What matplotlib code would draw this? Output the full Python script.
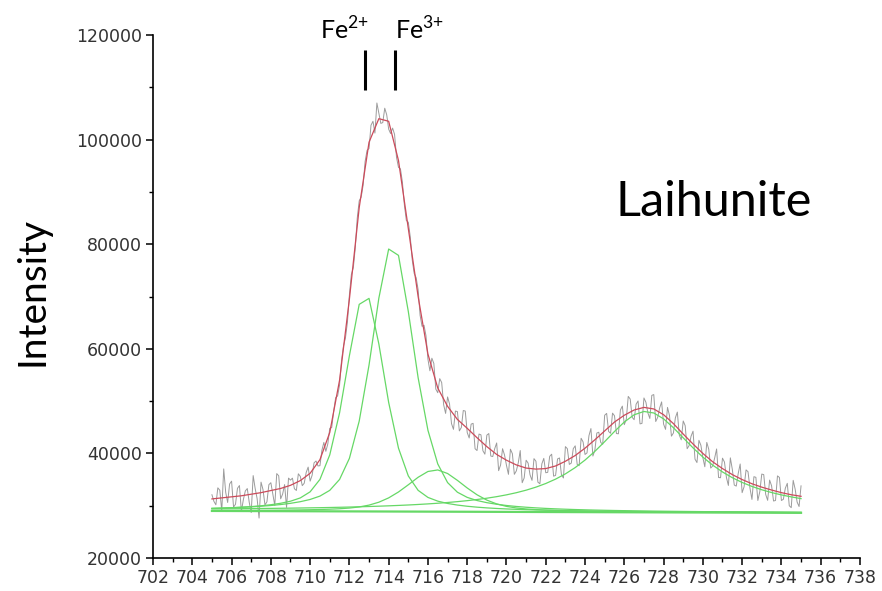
import numpy as np
import matplotlib
matplotlib.use("Agg")
import matplotlib.pyplot as plt
from matplotlib.ticker import MultipleLocator

plt.rcParams['mathtext.fontset'] = 'custom'
plt.rcParams['mathtext.rm'] = 'Lato'

# binding energy grid of the fit curves (eV)
fit_energy = np.linspace(705, 735, 61)

background = [29000, 28994, 28988, 28982, 28976, 28970, 28964, 28958, 28952, 28946,
              28940, 28934, 28928, 28922, 28916, 28910, 28904, 28898, 28892, 28886,
              28880, 28874, 28868, 28862, 28856, 28850, 28844, 28838, 28832, 28826,
              28820, 28814, 28808, 28802, 28796, 28790, 28784, 28778, 28772, 28766,
              28760, 28754, 28748, 28742, 28736, 28730, 28724, 28718, 28712, 28706,
              28700, 28694, 28688, 28682, 28676, 28670, 28664, 28658, 28652, 28646,
              28640]

# fitted components, height above the background
fe2 = [482, 549, 630, 730, 856, 1017, 1226, 1510, 1910, 2545,
       3715, 6097, 10793, 18836, 29760, 39590, 40737, 32030, 20850, 12122,
       6814, 4066, 2719, 2014, 1574, 1276, 1054, 885, 753, 648,
       564, 494, 437, 389, 349, 314, 285, 259, 237, 217,
       200, 184, 171, 159, 148, 138, 129, 121, 114, 107,
       101, 95, 90, 86, 81, 77, 73, 70, 67, 64, 61]
fe3 = [501, 559, 628, 710, 808, 929, 1078, 1266, 1506, 1823,
       2257, 2906, 4010, 6106, 10138, 17270, 27996, 40786, 50186, 48978,
       38262, 25600, 15555, 9124, 5570, 3733, 2749, 2157, 1750, 1453,
       1224, 1045, 903, 787, 692, 613, 547, 491, 443, 401,
       366, 334, 307, 283, 261, 242, 225, 210, 196, 184,
       172, 162, 152, 144, 136, 129, 122, 116, 110, 105, 100]
sat1 = [97, 106, 116, 128, 142, 157, 176, 197, 223, 255,
        294, 343, 408, 500, 637, 857, 1213, 1774, 2606, 3740,
        5121, 6564, 7677, 7979, 7304, 5999, 4547, 3250, 2239, 1521,
        1050, 756, 574, 458, 379, 321, 277, 242, 212, 188,
        168, 151, 136, 123, 112, 102, 94, 87, 80, 74,
        69, 64, 60, 56, 53, 49, 46, 44, 41, 39, 37]
sat2 = [396, 415, 434, 455, 477, 501, 527, 555, 585, 618,
        653, 691, 734, 779, 829, 885, 946, 1013, 1087, 1170,
        1261, 1365, 1481, 1612, 1761, 1930, 2124, 2347, 2606, 2906,
        3259, 3673, 4165, 4751, 5452, 6295, 7305, 8518, 9956, 11625,
        13490, 15440, 17260, 18645, 19281, 19003, 17885, 16199, 14270, 12352,
        10597, 9066, 7767, 6676, 5770, 5016, 4387, 3860, 3416, 3040, 2720]

envelope = [31300, 31500, 31700, 31900, 32200, 32500, 32900, 33300, 33900, 34800,
            36200, 38800, 44000, 54000, 69500, 87000, 99500, 104000, 103500, 96000,
            83000, 70000, 59000, 52500, 49000, 46500, 44800, 43000, 41300, 39800,
            38700, 37800, 37200, 37000, 37100, 37600, 38500, 39600, 41000, 42600,
            44300, 46000, 47300, 48300, 48800, 48500, 47400, 45700, 43700, 41800,
            40000, 38400, 37100, 35950, 35000, 34200, 33550, 33000, 32500, 32100, 31800]

# measured spectrum, 0.1 eV channels: even channels (705.0, 705.2 ...)
counts_even = [32100, 30180, 32960, 37040, 30620, 34700, 30280, 33860, 31160, 33280,
               28700, 33320, 27640, 33080, 30740, 34400, 30060, 35720, 32220, 29660,
               34900, 33240, 36100, 33840, 36360, 34700, 38200, 37600, 40600, 40400,
               44800, 48100, 51000, 57800, 62100, 70300, 75500, 85000, 89000, 95800,
               98300, 103500, 107000, 103100, 106000, 102000, 102200, 96600, 94400, 87500,
               84200, 77000, 73600, 66400, 64500, 58000, 58200, 52300, 54300, 49300,
               50800, 45700, 48100, 44300, 48200, 44000, 45600, 40900, 43700, 40500,
               43500, 39500, 40900, 36700, 40900, 37700, 40800, 36000, 38200, 34400,
               38700, 35900, 39000, 34500, 38000, 36300, 39450, 35650, 38950, 35900,
               41300, 37900, 40900, 37900, 42900, 39800, 43400, 39500, 43900, 42100,
               47300, 44200, 47700, 43800, 48300, 45500, 50900, 46900, 49400, 45650,
               50600, 47750, 51100, 46100, 48700, 45600, 48800, 43300, 46800, 43500,
               46200, 40900, 43300, 38900, 42500, 39200, 42100, 37200, 39100, 35400,
               39100, 35400, 39150, 33950, 36150, 32500, 36850, 33350, 35550, 31000,
               36050, 32150, 34900, 30900, 35700, 31000, 33350, 30000, 34850, 30700,
               33800]
# odd channels (705.1, 705.3 ...)
counts_odd = [30840, 33420, 29000, 32580, 34160, 29740, 33320, 28910, 32820, 30640,
              35760, 31380, 34510, 30160, 34020, 32180, 36140, 31320, 34040, 35280,
              35270, 32920, 35620, 34300, 37380, 35800, 38550, 37650, 42100, 41800,
              44950, 50650, 53100, 60550, 65100, 74200, 79350, 88300, 91300, 97950,
              102750, 101250, 105000, 103250, 104750, 101150, 101000, 94700, 91850, 84550,
              81400, 74400, 71300, 64300, 62500, 55800, 57200, 51600, 53550, 47650,
              49450, 44600, 48000, 44950, 48100, 42950, 45750, 40550, 43550, 39850,
              43800, 39400, 42000, 37800, 39700, 36000, 39950, 36650, 40550, 35300,
              38150, 34850, 38500, 34200, 39050, 36380, 39850, 35800, 39130, 35300,
              40900, 38150, 41450, 37650, 42200, 40100, 44750, 40600, 44050, 41750,
              47650, 43850, 47200, 43750, 49050, 46500, 50400, 46450, 50030, 45730,
              49780, 46680, 51250, 46900, 49850, 44600, 47250, 43900, 47900, 42600,
              45300, 41500, 44250, 38250, 41550, 37450, 40800, 37600, 40850, 35350,
              38350, 33880, 36950, 33750, 37980, 33630, 36500, 31200, 35430, 32680,
              35950, 31030, 33800, 31000, 35400, 31230, 34280, 29630, 33180, 29850]

peak_pos = [712.8, 714.3]
peak_names = ['Fe$^{\\mathrm{2{+}}}$', 'Fe$^{\\mathrm{3{+}}}$']

data_energy = np.linspace(705, 735, 301)
counts = np.empty(301)
counts[0::2] = counts_even
counts[1::2] = counts_odd

fig = plt.figure(figsize=(8.82, 5.91), dpi=100)
ax = fig.add_axes([0.1735, 0.0558, 0.8015, 0.885])

bg = np.array(background)
green = '#66d866'
ax.plot(data_energy, counts, color='#8a8a8a', lw=0.7, alpha=0.85)
ax.plot(fit_energy, bg, color=green, lw=1.6)
for comp in [fe2, fe3, sat1, sat2]:
    ax.plot(fit_energy, bg + np.array(comp), color=green, lw=0.9)
ax.plot(fit_energy, envelope, color='#cc4a5a', lw=0.9)

ax.vlines(peak_pos, 109500, 117100, color='black', lw=2.2)

ax.set_xlim(702, 738)
ax.set_ylim(20000, 120000)
ax.xaxis.set_major_locator(MultipleLocator(2))
ax.xaxis.set_minor_locator(MultipleLocator(1))
ax.yaxis.set_major_locator(MultipleLocator(20000))
ax.yaxis.set_minor_locator(MultipleLocator(10000))
ax.tick_params(which='major', length=5, width=1.1, labelsize=12.5, labelcolor='#333333', pad=3)
ax.tick_params(which='minor', length=3, width=1.0)
for s in ['top', 'right']:
    ax.spines[s].set_visible(False)
for s in ['left', 'bottom']:
    ax.spines[s].set_linewidth(1.2)

fig.text(33 / 882, 1 - 292 / 591, 'Intensity', rotation=90, ha='center', va='center',
         family='Lato', fontsize=28)
fig.text(714 / 882, 1 - 202 / 591, 'Laihunite', ha='center', va='center',
         family='Lato', fontsize=35)
fig.text(320 / 882, 1 - 40 / 591, peak_names[0], ha='left', va='baseline',
         family='Lato', fontsize=18)
fig.text(395 / 882, 1 - 40 / 591, peak_names[1], ha='left', va='baseline',
         family='Lato', fontsize=18)

fig.savefig('out.png', dpi=100)
